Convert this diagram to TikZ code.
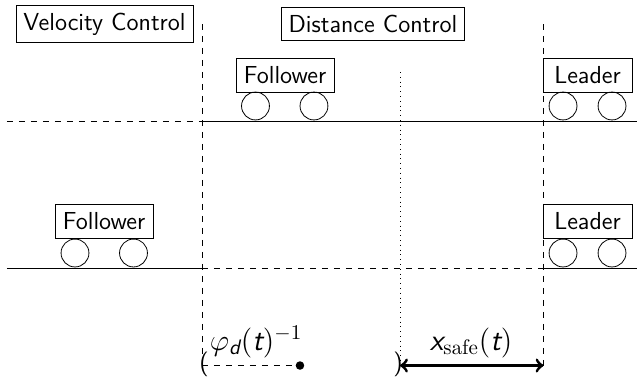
\documentclass[tikz,border=0pt]{standalone}
\usepackage{fix-cm}
\usepackage{amsmath}
\usepackage{tikz}
\usetikzlibrary{arrows}
\tikzset{every node/.style={font=\fontsize{12.3}{14}\selectfont\sffamily}}
\tikzset{labelbox/.style={draw=black, inner sep=3.7pt}}
\tikzset{carbox/.style={draw=black, inner sep=0pt, minimum height=17pt}}
\tikzset{wheel/.style={shape=circle, draw=black, inner sep=0pt, minimum size=0.49cm}}
\tikzset{biglabel/.style={font=\fontsize{15}{17}\selectfont\sffamily, inner sep=0pt}}
\newcommand{\sfit}[1]{\text{\sffamily\itshape #1}}

\begin{document}
\begin{tikzpicture}
		\useasboundingbox (0,0) rectangle (11.195,6.626);
		\node[style=labelbox] (velocity) at (1.837,6.204) {Velocity Control};
		\node[style=labelbox] (distance) at (6.555,6.204) {Distance Control};
		% top row
		\node[style=carbox, minimum width=49pt] (followerA) at (5.009,5.308) {Follower};
		\node[style=wheel] (wheelA) at (4.490,4.763) {};
		\node[style=wheel] (wheelB) at (5.518,4.763) {};
		\node[style=carbox, minimum width=44.5pt] (leaderA) at (10.325,5.308) {Leader};
		\node[style=wheel] (wheelC) at (9.895,4.763) {};
		\node[style=wheel] (wheelD) at (10.756,4.763) {};
		% bottom row
		\node[style=carbox, minimum width=49pt] (followerB) at (1.828,2.742) {Follower};
		\node[style=wheel] (wheelE) at (1.318,2.179) {};
		\node[style=wheel] (wheelF) at (2.346,2.179) {};
		\node[style=carbox, minimum width=44.5pt] (leaderB) at (10.325,2.742) {Leader};
		\node[style=wheel] (wheelG) at (9.895,2.179) {};
		\node[style=wheel] (wheelH) at (10.756,2.179) {};
		% road points
		\coordinate (roadAl) at (0.123,4.499);
		\coordinate (roadAm) at (3.550,4.499);
		\coordinate (roadAr) at (11.195,4.499);
		\coordinate (roadBl) at (0.123,1.916);
		\coordinate (roadBm) at (3.550,1.916);
		\coordinate (roadBn) at (9.552,1.916);
		\coordinate (roadBr) at (11.195,1.916);
		\draw [dashed] (roadAl) -- (roadAm);
		\draw (roadAm) -- (roadAr);
		\draw (roadBl) -- (roadBm);
		\draw [dashed] (roadBm) -- (roadBn);
		\draw (roadBn) -- (roadBr);
		% vertical marks
		\coordinate (velTop) at (3.550,6.204);
		\coordinate (velBot) at (3.550,0.202);
		\coordinate (leadTop) at (9.552,6.204);
		\coordinate (leadBot) at (9.552,0.202);
		\coordinate (midTop) at (7.030,5.360);
		\coordinate (midBot) at (7.030,0.202);
		\draw [dashed] (velTop) -- (velBot);
		\draw [dashed] (leadTop) -- (leadBot);
		\draw [dotted] (midTop) -- (midBot);
		% bottom brackets
		\node[inner sep=0pt] (open) at (3.585,0.215) {(};
		\node[inner sep=0pt] (close) at (6.995,0.215) {)};
		\node[shape=circle, fill=black, inner sep=0pt, minimum size=0.15cm] (dot) at (5.272,0.202) {};
		\draw [dashed] (velBot) -- (dot);
		\draw [<->, line width=1.5pt] (midBot) -- (leadBot);
		\node[style=biglabel] (phase) at (4.500,0.620) {$\varphi_{\sfit{d}}(\sfit{t})^{-1}$};
		\node[style=biglabel] (safe) at (8.280,0.598) {$\sfit{x}_{\mathrm{safe}}(\sfit{t})$};
	\end{tikzpicture}
\end{document}
